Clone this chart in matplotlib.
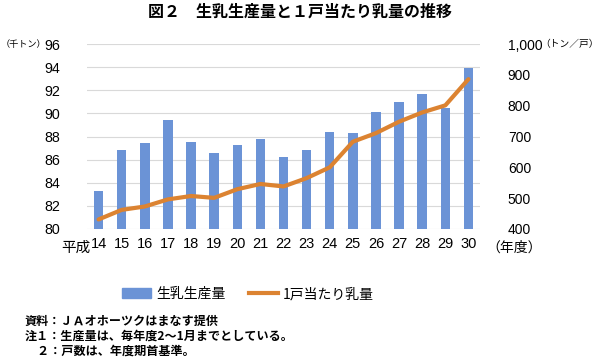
import numpy as np
import matplotlib
matplotlib.use("Agg")
import matplotlib.pyplot as plt
from matplotlib.patches import Patch
from matplotlib.lines import Line2D

plt.rcParams['font.family'] = ['Noto Sans CJK JP', 'DejaVu Sans']

# データ
years = ['14', '15', '16', '17', '18', '19', '20', '21', '22',
         '23', '24', '25', '26', '27', '28', '29', '30']
production = [83.3, 86.8, 87.4, 89.4, 87.5, 86.55, 87.3, 87.8, 86.2,
              86.8, 88.4, 88.3, 90.1, 90.95, 91.7, 90.5, 93.95]   # 千トン
per_farm = [431, 462, 473, 496, 507, 501, 529, 546, 538,
            565, 600, 683, 711, 748, 778, 801, 886]                # トン／戸

blue = '#6b93d6'
orange = '#dc8331'
num_font = ['Liberation Sans', 'DejaVu Sans']

fig = plt.figure(figsize=(5.99, 3.58), dpi=100)
ax = fig.add_axes([87/599, 1 - 229/358, 393/599, 185/358])
x = np.arange(len(years))

ax.bar(x, production, width=0.41, color=blue, zorder=2)
ax.set_ylim(80, 96)
ax.set_yticks(np.arange(80, 97, 2))
ax.set_xlim(-0.5, len(years) - 0.5)
ax.set_xticks(x)
ax.set_xticklabels(years, family=num_font, fontsize=10.5)
ax.set_yticklabels([str(v) for v in range(80, 97, 2)], family=num_font, fontsize=10.3)
ax.grid(axis='y', color='#d9d9d9', lw=0.8, zorder=0)
for s in ax.spines.values():
    s.set_visible(False)
ax.tick_params(length=0, pad=6)
ax.tick_params(axis='y', pad=19)

ax2 = ax.twinx()
ax2.plot(x, per_farm, color=orange, lw=3, solid_capstyle='round', zorder=3)
ax2.set_ylim(400, 1000)
ax2.set_yticks(np.arange(400, 1001, 100))
ax2.set_yticklabels(['400', '500', '600', '700', '800', '900', '1,000'],
                    family=num_font, fontsize=10)
for s in ax2.spines.values():
    s.set_visible(False)
ax2.tick_params(length=0, pad=20)

# 軸ラベル類
fig.text(300/599, 1 - 12/358, '図２　生乳生産量と１戸当たり乳量の推移', ha='center', va='center',
         fontsize=11.5, fontweight='bold')
fig.text(0.5/599, 1 - 44/358, '（千トン）', ha='left', va='center', fontsize=6.6)
fig.text(598.5/599, 1 - 44/358, '（トン／戸）', ha='right', va='center', fontsize=7)
fig.text(61/599, 1 - 248/358, '平成', ha='left', va='center', fontsize=10.5)
fig.text(486/599, 1 - 248/358, '（年度）', ha='left', va='center', fontsize=10)

handles = [Patch(color=blue, label='生乳生産量'),
           Line2D([0], [0], color=orange, lw=3, label='1戸当たり乳量')]
fig.legend(handles=handles, loc='center', bbox_to_anchor=(248/599, 1 - 294/358),
           ncol=2, frameon=False, fontsize=10, handlelength=2.1, columnspacing=1.7,
           handletextpad=0.35)

notes = ['資料：ＪＡオホーツクはまなす提供',
         '注１：生産量は、毎年度2～1月までとしている。',
         '　２：戸数は、年度期首基準。']
for i, t in enumerate(notes):
    fig.text(25/599, 1 - (321 + i*15)/358, t, ha='left', va='center', fontsize=8.7,
             fontweight='bold')

fig.savefig('out.png', dpi=100)
